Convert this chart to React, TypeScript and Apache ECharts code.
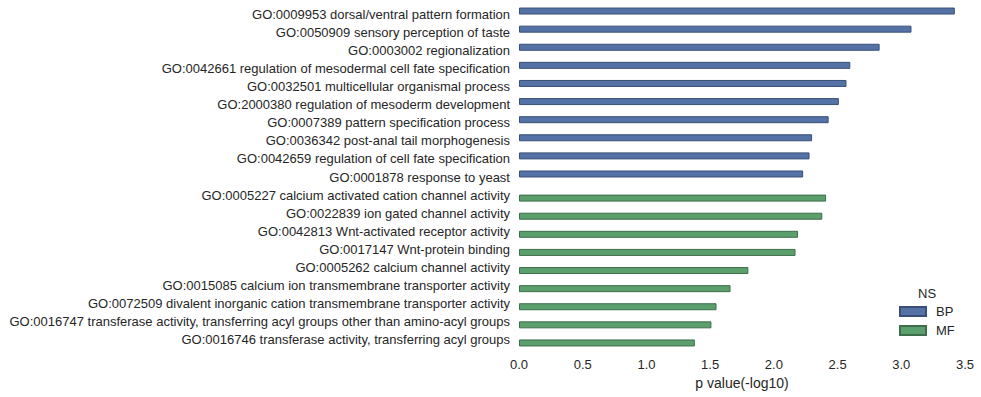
import React, { useEffect, useRef } from "react";
import * as echarts from "echarts";

const bpCategories = [
  "GO:0009953 dorsal/ventral pattern formation",
  "GO:0050909 sensory perception of taste",
  "GO:0003002 regionalization",
  "GO:0042661 regulation of mesodermal cell fate specification",
  "GO:0032501 multicellular organismal process",
  "GO:2000380 regulation of mesoderm development",
  "GO:0007389 pattern specification process",
  "GO:0036342 post-anal tail morphogenesis",
  "GO:0042659 regulation of cell fate specification",
  "GO:0001878 response to yeast",
];
const bpValues = [3.42, 3.08, 2.83, 2.6, 2.57, 2.51, 2.43, 2.3, 2.28, 2.23];

const mfCategories = [
  "GO:0005227 calcium activated cation channel activity",
  "GO:0022839 ion gated channel activity",
  "GO:0042813 Wnt-activated receptor activity",
  "GO:0017147 Wnt-protein binding",
  "GO:0005262 calcium channel activity",
  "GO:0015085 calcium ion transmembrane transporter activity",
  "GO:0072509 divalent inorganic cation transmembrane transporter activity",
  "GO:0016747 transferase activity, transferring acyl groups other than amino-acyl groups",
  "GO:0016746 transferase activity, transferring acyl groups",
];
const mfValues = [2.41, 2.38, 2.19, 2.17, 1.8, 1.66, 1.55, 1.51, 1.38];

const xTicks = [0, 0.5, 1, 1.5, 2, 2.5, 3, 3.5];

export default function App() {
  const ref = useRef<HTMLDivElement>(null);
  useEffect(() => {
    if (!ref.current) return;
    const chart = echarts.init(ref.current, undefined, { renderer: "svg" });
    const categories = [...bpCategories, ...mfCategories];
    const bpData = categories.map((_, i) => (i < bpValues.length ? bpValues[i] : null));
    const mfData = categories.map((_, i) =>
      i >= bpValues.length ? mfValues[i - bpValues.length] : null
    );
    const textColor = "#262626";
    const font = "Liberation Sans, Arial, sans-serif";
    chart.setOption({
      animation: false,
      backgroundColor: "#ffffff",
      textStyle: { fontFamily: font },
      grid: { left: 519, right: 16, top: 5, bottom: 48, containLabel: false },
      xAxis: {
        type: "value",
        min: xTicks[0],
        max: xTicks[xTicks.length - 1],
        interval: 0.5,
        axisLine: { show: false },
        axisTick: { show: false },
        splitLine: { show: false },
        axisLabel: {
          color: textColor,
          fontSize: 13,
          fontFamily: font,
          margin: 9,
          formatter: (v: number) => v.toFixed(1),
        },
        name: "p value(-log10)",
        nameLocation: "middle",
        nameGap: 26,
        nameTextStyle: { color: textColor, fontSize: 14, fontFamily: font, verticalAlign: "top" },
      },
      yAxis: {
        type: "category",
        inverse: true,
        data: categories,
        axisLine: { show: false },
        axisTick: { show: false },
        splitLine: { show: false },
        axisLabel: { color: textColor, fontSize: 13, fontFamily: font, margin: 9 },
      },
      legend: {
        orient: "vertical",
        left: 894,
        top: 300,
        icon: "rect",
        itemWidth: 26,
        itemHeight: 9,
        itemGap: 6,
        textStyle: { color: textColor, fontSize: 13, fontFamily: font, padding: [0, 0, 0, 5] },
        data: ["BP", "MF"],
      },
      graphic: [
        {
          type: "text",
          left: 918,
          top: 287,
          style: { text: "NS", fill: textColor, fontSize: 13, fontFamily: font },
        },
      ],
      series: [
        {
          name: "BP",
          type: "bar",
          data: bpData,
          barWidth: 7,
          barGap: "-14%",
          itemStyle: { color: "#5572a6", borderColor: "#3a4f78", borderWidth: 1 },
        },
        {
          name: "MF",
          type: "bar",
          data: mfData,
          barWidth: 7,
          barGap: "-14%",
          itemStyle: { color: "#5b9f6d", borderColor: "#3e6e4b", borderWidth: 1 },
        },
      ],
    });
    return () => chart.dispose();
  }, []);
  return (
    <div
      ref={ref}
      style={{ position: "fixed", left: 0, top: 0, width: 981, height: 397 }}
    />
  );
}
